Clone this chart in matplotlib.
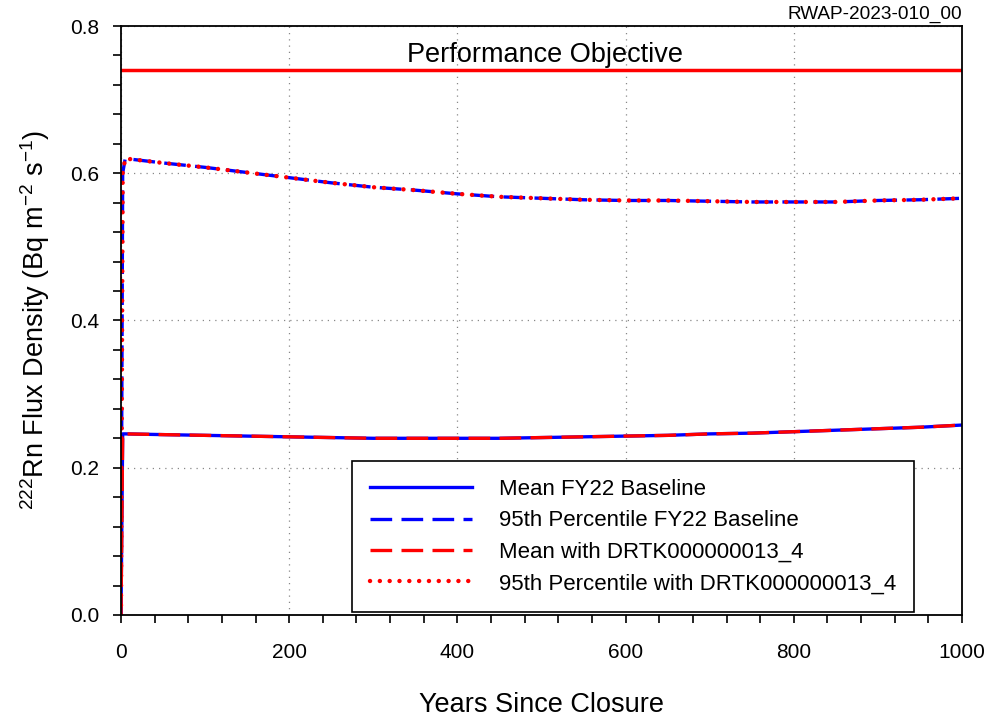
import matplotlib
matplotlib.use("Agg")
import matplotlib.pyplot as plt
from matplotlib.ticker import MultipleLocator, FormatStrFormatter

plt.rcParams['font.family'] = ['Liberation Sans', 'DejaVu Sans']
plt.rcParams['mathtext.fontset'] = 'custom'
plt.rcParams['mathtext.rm'] = 'Liberation Sans'
plt.rcParams['mathtext.it'] = 'Liberation Sans'

years = [0, 2, 5, 50, 100, 150, 200, 250, 300, 350, 400, 450, 500, 550, 600,
         650, 700, 750, 800, 850, 900, 950, 1000]
mean_base = [0.0, 0.246, 0.246, 0.245, 0.244, 0.243, 0.242, 0.241, 0.240, 0.240,
             0.240, 0.240, 0.241, 0.242, 0.243, 0.244, 0.246, 0.247, 0.249, 0.251,
             0.253, 0.255, 0.258]
p95_base = [0.0, 0.60, 0.620, 0.614, 0.608, 0.601, 0.594, 0.587, 0.581, 0.577,
            0.572, 0.568, 0.566, 0.564, 0.563, 0.563, 0.562, 0.561, 0.561, 0.561,
            0.563, 0.564, 0.566]
mean_drtk = mean_base
p95_drtk = p95_base
objective = 0.74

fig = plt.figure(figsize=(9.89, 7.17), dpi=100)
ax = fig.add_axes([121/989, 1-615/717, (962-121)/989, (615-26)/717])

ax.plot(years, mean_base, color='#0000ff', lw=2.4, ls='-', label='Mean FY22 Baseline')
ax.plot(years, p95_base, color='#0000ff', lw=2.4, ls=(0, (6.5, 2.8)), label='95th Percentile FY22 Baseline')
ax.plot(years, mean_drtk, color='#ff0000', lw=2.4, ls=(0, (6.5, 2.8)), label='Mean with DRTK000000013_4')
ax.plot(years, p95_drtk, color='#ff0000', lw=3.2, ls=(0, (0.01, 2.2)), dash_capstyle='round',
        label='95th Percentile with DRTK000000013_4')
ax.axhline(objective, color='#ff0000', lw=2.5)
ax.text(504, 0.751, 'Performance Objective', ha='center', va='baseline', fontsize=19.5)

ax.set_xlim(0, 1000)
ax.set_ylim(0, 0.8)
ax.xaxis.set_major_locator(MultipleLocator(200))
ax.xaxis.set_minor_locator(MultipleLocator(40))
ax.yaxis.set_major_locator(MultipleLocator(0.2))
ax.yaxis.set_minor_locator(MultipleLocator(0.04))
ax.yaxis.set_major_formatter(FormatStrFormatter('%.1f'))
ax.tick_params(which='both', direction='out', top=False, right=False, labelsize=15,
               width=1.2, length=5.5)
ax.tick_params(axis='y', which='major', pad=10)
ax.tick_params(axis='x', which='major', pad=15)
ax.grid(True, which='major', color='#888888', ls=(0, (1, 4)), lw=0.9)
for s in ax.spines.values():
    s.set_linewidth(1.3)

ax.set_xlabel('Years Since Closure', fontsize=19.5, labelpad=21)
ax.set_ylabel('$^{222}$Rn Flux Density (Bq m$^{-2}$ s$^{-1}$)', fontsize=19.5, labelpad=13)

leg = ax.legend(loc='lower right', bbox_to_anchor=(914/989, 1-612/717), bbox_transform=fig.transFigure,
                fontsize=16, frameon=True, fancybox=False, edgecolor='black', framealpha=1,
                handlelength=4.6, handletextpad=1.2, borderpad=0.8, labelspacing=0.47, borderaxespad=0)
leg.get_frame().set_linewidth(1.2)

fig.text(962/989, 1-14.5/717, 'RWAP-2023-010_00', ha='right', va='center', fontsize=13.7)

fig.savefig('out.png', dpi=100)
